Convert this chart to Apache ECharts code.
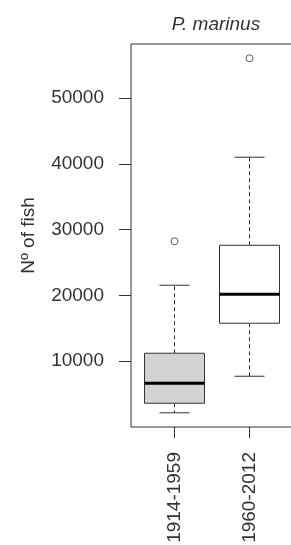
<!DOCTYPE html>
<html>
<head>
<meta charset="utf-8">
<script src="https://cdn.jsdelivr.net/npm/echarts@6/dist/echarts.min.js"></script>
<style>
  html, body { margin: 0; padding: 0; background: #fff; }
  #main { width: 291px; height: 545px; }
</style>
</head>
<body>
<div id="main"></div>
<script>
// data
var periods = ['1914-1959', '1960-2012'];
var lowWhisker = [2160, 7720];
var q1 = [3610, 15780];
var median = [6650, 20190];
var q3 = [11220, 27640];
var highWhisker = [21560, 41030];
var outlierPos = [1, 2];
var outlierVal = [28250, 56080];
var yTicks = [10000, 20000, 30000, 40000, 50000];
var boxFill = ['#d3d3d3', '#ffffff'];

var boxData = periods.map(function (p, i) {
	return [i + 1, lowWhisker[i], q1[i], median[i], q3[i], highWhisker[i]];
});
var outData = outlierPos.map(function (p, i) {
	return [p, outlierVal[i]];
});

var ink = '#333';

function renderBox(params, api) {
	var x = api.value(0);
	var lo = api.value(1), a = api.value(2), m = api.value(3), b = api.value(4), hi = api.value(5);
	var tl = api.coord([x - 0.4, b]);
	var br = api.coord([x + 0.4, a]);
	var mid = api.coord([x, m]);
	var capL = api.coord([x - 0.2, hi]);
	var capR = api.coord([x + 0.2, hi]);
	var lowL = api.coord([x - 0.2, lo]);
	var lowR = api.coord([x + 0.2, lo]);
	var dash = { stroke: ink, lineWidth: 1, lineDash: [4, 3] };
	var solid = { stroke: ink, lineWidth: 1 };
	return {
		type: 'group',
		children: [
			{ type: 'line', shape: { x1: mid[0], y1: tl[1], x2: mid[0], y2: capL[1] }, style: dash },
			{ type: 'line', shape: { x1: mid[0], y1: br[1], x2: mid[0], y2: lowL[1] }, style: dash },
			{ type: 'line', shape: { x1: capL[0], y1: capL[1], x2: capR[0], y2: capR[1] }, style: solid },
			{ type: 'line', shape: { x1: lowL[0], y1: lowL[1], x2: lowR[0], y2: lowR[1] }, style: solid },
			{ type: 'rect', shape: { x: tl[0], y: tl[1], width: br[0] - tl[0], height: br[1] - tl[1] },
				style: { fill: boxFill[params.dataIndex], stroke: ink, lineWidth: 1 } },
			{ type: 'line', shape: { x1: tl[0], y1: mid[1], x2: br[0], y2: mid[1] },
				style: { stroke: '#000', lineWidth: 3 } }
		]
	};
}

var myChart = echarts.init(document.getElementById('main'));

var option = {
	animation: false,
	title: {
		text: 'P. marinus',
		left: 211,
		top: 10,
		textAlign: 'center',
		textStyle: { fontFamily: 'Liberation Sans', fontSize: 19, fontStyle: 'italic', fontWeight: 'normal', color: ink }
	},
	grid: {
		show: true,
		left: 131,
		top: 44,
		width: 162,
		height: 383,
		outerBoundsMode: 'none',
		containLabel: false,
		borderColor: ink,
		borderWidth: 1,
		backgroundColor: 'transparent'
	},
	xAxis: {
		type: 'value',
		min: 0.42,
		max: 2.58,
		splitLine: { show: false },
		axisLine: { show: false },
		axisTick: { show: true, customValues: [1, 2], length: 11, lineStyle: { color: ink } },
		axisLabel: {
			customValues: [1, 2],
			rotate: 90,
			margin: 25,
			fontFamily: 'Liberation Sans',
			fontSize: 19,
			color: ink,
			formatter: function (v) { return periods[Math.round(v) - 1]; }
		}
	},
	yAxis: {
		type: 'value',
		min: 0,
		max: 58250,
		name: 'Nº of fish',
		nameLocation: 'middle',
		nameGap: 93,
		nameTextStyle: { fontFamily: 'Liberation Sans', fontSize: 19, color: ink },
		splitLine: { show: false },
		axisLine: { show: false },
		axisTick: { show: true, customValues: yTicks, length: 12, lineStyle: { color: ink } },
		axisLabel: {
			customValues: yTicks,
			margin: 27,
			fontFamily: 'Liberation Sans',
			fontSize: 19,
			color: ink,
			formatter: function (v) { return String(v); }
		}
	},
	series: [{
		type: 'custom',
		renderItem: renderBox,
		data: boxData,
		encode: { x: 0, y: [1, 2, 3, 4, 5] }
	}, {
		type: 'scatter',
		data: outData,
		symbol: 'circle',
		symbolSize: 7,
		itemStyle: { color: '#fff', borderColor: ink, borderWidth: 1 }
	}]
};
myChart.setOption(option);
</script>
</body>
</html>
